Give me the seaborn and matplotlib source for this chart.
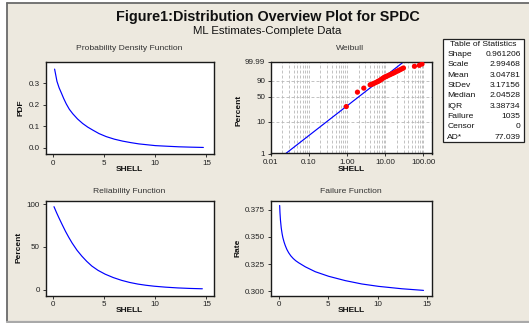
import numpy as np
import matplotlib
matplotlib.use('Agg')
import matplotlib.pyplot as plt
import seaborn as sns
from matplotlib.ticker import FixedLocator, FixedFormatter, LogLocator, NullFormatter
from matplotlib.patches import Rectangle
from matplotlib.lines import Line2D

sns.set_theme(style='white')
plt.rcParams['font.family'] = ['Liberation Sans', 'DejaVu Sans']

# ---------------- data ----------------
pdf_shell = [0.16, 0.25, 0.39, 0.6, 0.82, 1.05, 1.3, 1.6, 1.94, 2.4, 2.9, 3.4, 3.9, 4.5, 5.2,
             6.0, 6.8, 7.6, 8.4, 9.2, 10.0, 11.0, 12.3, 13.5, 14.7]
pdf_value = [0.367, 0.345, 0.31, 0.28, 0.256, 0.23, 0.205, 0.18, 0.159, 0.135, 0.114, 0.097,
             0.083, 0.067, 0.053, 0.041, 0.032, 0.025, 0.019, 0.015, 0.011, 0.0085, 0.0055,
             0.0038, 0.0025]

rel_shell = [0.1, 0.35, 0.58, 0.9, 1.23, 1.55, 1.87, 2.35, 2.83, 3.3, 3.8, 4.4, 5.1, 5.9, 6.7,
             7.5, 8.3, 9.1, 9.9, 11.0, 12.2, 13.4, 14.6]
rel_percent = [97, 90, 84, 76, 68, 61, 54.5, 46, 39, 33, 27.5, 22.5, 18, 14, 10.8, 8.3, 6.4,
               5.0, 3.9, 2.8, 1.9, 1.3, 0.9]

haz_shell = [0.07, 0.1, 0.15, 0.23, 0.32, 0.4, 0.52, 0.64, 0.8, 0.98, 1.2, 1.45, 1.7, 2.0,
             2.67, 3.68, 5.03, 6.72, 8.4, 10.1, 12.46, 14.66]
haz_rate = [0.379, 0.3725, 0.3655, 0.3582, 0.3528, 0.3492, 0.3452, 0.3420, 0.3385, 0.3355,
            0.3326, 0.3301, 0.3281, 0.3262, 0.3225, 0.3180, 0.3138, 0.3098, 0.3067, 0.3045,
            0.3023, 0.3008]

wb_shell = [0.957, 1.87, 2.74, 4.02, 4.4, 4.82, 5.3, 5.93, 6.4, 6.95, 7.5, 8.03, 8.7, 9.42,
            10.1, 10.9, 12.0, 13.3, 14.8, 16.3, 18.0, 20.0, 22.0, 24.4, 27.0, 29.9, 58, 77.6, 91.5]
wb_percent = [28.3, 62.2, 73.1, 81.4, 82.5, 83.7, 85.5, 87.1, 88.5, 89.7, 91.0, 92.4, 93.6, 94.7,
              95.3, 95.8, 96.6, 97.2, 97.8, 98.2, 98.6, 99.0, 99.2, 99.44, 99.6, 99.72, 99.876,
              99.925, 99.964]
fit_shell = [0.025, 29.9]
fit_percent = [1.0, 99.99]

wb_yticks = [1, 10, 50, 90, 99.99]
wb_ylabels = ['1', '10', '50', '90', '99.99']
wb_xticks = [0.01, 0.1, 1, 10, 100]
wb_xlabels = ['0.01', '0.10', '1.00', '10.00', '100.00']
lin_xticks = [0, 5, 10, 15]

stat_names = ['Shape', 'Scale', 'Mean', 'StDev', 'Median', 'IQR', 'Failure', 'Censor', 'AD*']
stat_values = ['0.961206', '2.99468', '3.04781', '3.17156', '2.04528', '3.38734', '1035', '0', '77.039']

# ---------------- figure ----------------
W, H = 529, 323
BG = '#EDE9DF'
fig = plt.figure(figsize=(W / 100, H / 100), dpi=100, facecolor='white')

def fx(x):
    return x / W

def fy(y):
    return 1 - y / H

# beige panel and frame
fig.patches.append(Rectangle((fx(6.5), fy(321)), 1 - fx(6.5), fy(3) - fy(321),
                             transform=fig.transFigure, facecolor=BG, edgecolor='none', zorder=-5))
fig.lines.append(Line2D([fx(6.5), fx(6.5)], [fy(3), fy(321)], transform=fig.transFigure,
                        color='#6A6A6A', lw=1.3))
fig.lines.append(Line2D([fx(6.5), 1], [fy(3), fy(3)], transform=fig.transFigure,
                        color='#6A6A6A', lw=1.3))
fig.lines.append(Line2D([fx(6.5), 1], [fy(322), fy(322)], transform=fig.transFigure,
                        color='#A9A9A9', lw=1.6))

def add_ax(l, t, r, b):
    ax = fig.add_axes([fx(l), fy(b), (r - l) / W, (b - t) / H])
    ax.set_facecolor('white')
    for s in ax.spines.values():
        s.set_color('#1A1A1A')
        s.set_linewidth(1.0)
        s.set_visible(True)
    ax.tick_params(axis='both', which='major', direction='out', length=2.5, width=0.7,
                   color='#333333', labelsize=5.8, pad=1.5, labelcolor='#222222',
                   bottom=True, left=True)
    ax.set_xlabel('')
    ax.set_ylabel('')
    return ax

blue = '#0000FF'

# PDF
ax1 = add_ax(45.5, 62, 213.6, 154)
sns.lineplot(x=pdf_shell, y=pdf_value, ax=ax1, color=blue, linewidth=0.85, estimator=None)
ax1.set_xlim(-0.73, 15.7)
ax1.set_ylim(-0.028, 0.4)
ax1.set_xticks(lin_xticks)
ax1.set_yticks([0.0, 0.1, 0.2, 0.3])
ax1.set_yticklabels(['0.0', '0.1', '0.2', '0.3'])

# Weibull probability plot
ax2 = add_ax(270.6, 62, 431.8, 153.5)
sns.lineplot(x=fit_shell, y=fit_percent, ax=ax2, color=blue, linewidth=0.85, estimator=None)
sns.scatterplot(x=wb_shell, y=wb_percent, ax=ax2, color='#FF0000', s=14, edgecolor='none', zorder=3)

def fwd(p):
    p = np.clip(np.asarray(p, dtype=float), 1e-6, 99.999999)
    return np.log(-np.log(1 - p / 100.0))

def inv(u):
    return 100.0 * (1 - np.exp(-np.exp(np.asarray(u, dtype=float))))

ax2.set_xscale('log')
ax2.set_yscale('function', functions=(fwd, inv))
ax2.set_xlim(0.01, 165)
ax2.set_ylim(1, 99.99)
ax2.yaxis.set_major_locator(FixedLocator(wb_yticks))
ax2.yaxis.set_major_formatter(FixedFormatter(wb_ylabels))
ax2.yaxis.set_minor_locator(FixedLocator([]))
ax2.xaxis.set_major_locator(FixedLocator(wb_xticks))
ax2.xaxis.set_major_formatter(FixedFormatter(wb_xlabels))
ax2.xaxis.set_minor_locator(LogLocator(base=10, subs=np.arange(2, 10)))
ax2.xaxis.set_minor_formatter(NullFormatter())
ax2.tick_params(axis='x', which='minor', length=0)
ax2.grid(True, which='both', axis='x', color='#B8B8B8', linestyle=(0, (3.5, 2.5)), linewidth=0.6)
ax2.grid(True, which='major', axis='y', color='#B8B8B8', linestyle=(0, (3.5, 2.5)), linewidth=0.6)
ax2.set_axisbelow(True)

# Reliability
ax3 = add_ax(45.5, 200.7, 213.6, 295.7)
sns.lineplot(x=rel_shell, y=rel_percent, ax=ax3, color=blue, linewidth=0.85, estimator=None)
ax3.set_xlim(-0.73, 15.7)
ax3.set_ylim(-7.2, 104)
ax3.set_xticks(lin_xticks)
ax3.set_yticks([0, 50, 100])

# Failure (hazard)
ax4 = add_ax(270.6, 200.7, 431.8, 295.7)
sns.lineplot(x=haz_shell, y=haz_rate, ax=ax4, color=blue, linewidth=0.85, estimator=None)
ax4.set_xlim(-0.85, 15.5)
ax4.set_ylim(0.2959, 0.3834)
ax4.set_xticks(lin_xticks)
ax4.set_yticks([0.300, 0.325, 0.350, 0.375])
ax4.set_yticklabels(['0.300', '0.325', '0.350', '0.375'])

# ---------------- texts ----------------
fig.text(fx(268), fy(16.7), 'Figure1:Distribution Overview Plot for SPDC', ha='center', va='center',
         fontsize=10.4, fontweight='bold', color='#111111')
fig.text(fx(267.5), fy(31.5), 'ML Estimates-Complete Data', ha='center', va='center',
         fontsize=8.2, color='#111111')

sub_kw = dict(ha='center', va='center', fontsize=6.1, color='#333333')
fig.text(fx(129.5), fy(49), 'Probability Density Function', **sub_kw)
fig.text(fx(350.5), fy(49), 'Weibull', **sub_kw)
fig.text(fx(129.5), fy(191), 'Reliability Function', **sub_kw)
fig.text(fx(350.5), fy(191), 'Failure Function', **sub_kw)

lab_kw = dict(ha='center', va='center', fontsize=6.0, fontweight='bold', color='#111111')
fig.text(fx(129.5), fy(169), 'SHELL', **lab_kw)
fig.text(fx(351), fy(169), 'SHELL', **lab_kw)
fig.text(fx(129.5), fy(311), 'SHELL', **lab_kw)
fig.text(fx(351), fy(311), 'SHELL', **lab_kw)
fig.text(fx(21), fy(107.5), 'PDF', rotation=90, **lab_kw)
fig.text(fx(239), fy(110), 'Percent', rotation=90, **lab_kw)
fig.text(fx(19), fy(247.5), 'Percent', rotation=90, **lab_kw)
fig.text(fx(238), fy(247.5), 'Rate', rotation=90, **lab_kw)

# table of statistics
fig.patches.append(Rectangle((fx(443), fy(142)), (523.5 - 443) / W, (142 - 39) / H,
                             transform=fig.transFigure, facecolor='white', edgecolor='#222222',
                             lw=0.9, zorder=2))
fig.text(fx(483.3), fy(44.3), 'Table of Statistics', ha='center', va='center', fontsize=6.1,
         color='#111111', zorder=3)
for i, (n, v) in enumerate(zip(stat_names, stat_values)):
    yy = 54.3 + i * 10.37
    fig.text(fx(447.3), fy(yy), n, ha='left', va='center', fontsize=6.1, color='#111111', zorder=3)
    fig.text(fx(520.7), fy(yy), v, ha='right', va='center', fontsize=6.1, color='#111111', zorder=3)

fig.savefig('out.png', dpi=100, facecolor=fig.get_facecolor())
